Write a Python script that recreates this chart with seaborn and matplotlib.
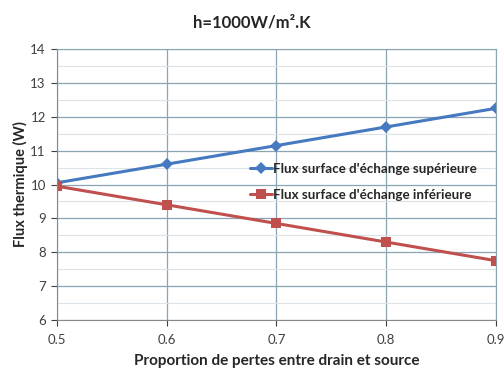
import matplotlib
matplotlib.use("Agg")
import matplotlib.pyplot as plt
import seaborn as sns
import pandas as pd
from matplotlib.ticker import MultipleLocator

# Proportion of losses between drain and source
proportion = [0.5, 0.6, 0.7, 0.8, 0.9]
flux_sup = [10.05, 10.6, 11.15, 11.7, 12.25]
flux_inf = [9.95, 9.4, 8.85, 8.3, 7.75]
label_sup = "Flux surface d'échange supérieure"
label_inf = "Flux surface d'échange inférieure"

df = pd.DataFrame({
    "x": proportion * 2,
    "y": flux_sup + flux_inf,
    "serie": [label_sup] * len(proportion) + [label_inf] * len(proportion),
})

sns.set_style("white")
plt.rcParams["font.family"] = ["Lato", "DejaVu Sans"]

fig = plt.figure(figsize=(5.04, 3.69), dpi=100)
ax = fig.add_axes([0.113, 0.133, 0.871, 0.734])

sns.lineplot(
    data=df, x="x", y="y", hue="serie", style="serie",
    palette={label_sup: "#4579C0", label_inf: "#C0504D"},
    markers={label_sup: "D", label_inf: "s"},
    dashes=False, markersize=6.5, linewidth=2.2, markeredgewidth=0,
    ax=ax,
)

ax.set_xlim(0.5, 0.9)
ax.set_ylim(6, 14)
ax.set_xticks(proportion)
ax.set_xticklabels([f"{v:g}" for v in proportion])
ax.yaxis.set_major_locator(MultipleLocator(1))
ax.yaxis.set_minor_locator(MultipleLocator(0.5))
ax.grid(which="major", color="#8AA4B4", linewidth=0.9)
ax.grid(which="minor", axis="y", color="#DCE3E8", linewidth=0.8)
ax.set_axisbelow(True)
for s in ax.spines.values():
    s.set_color("#8AA4B4")
ax.spines["left"].set_color("#888888")
ax.spines["bottom"].set_color("#888888")
ax.tick_params(axis="both", which="major", labelsize=9.5, colors="#404040",
               length=4, direction="out", left=True, bottom=True)
ax.tick_params(axis="x", which="major", pad=6)
ax.tick_params(axis="y", which="major", pad=4)
ax.tick_params(axis="both", which="minor", length=0)

ax.set_xlabel("Proportion de pertes entre drain et source",
              fontsize=11, fontweight="bold", labelpad=6)
ax.set_ylabel("Flux thermique (W)", fontsize=10.5, fontweight="bold", labelpad=2)
fig.text(0.5, 0.94, "h=1000W/m².K", ha="center", va="center",
         fontsize=12, fontweight="bold")

leg = ax.legend(loc="upper left", bbox_to_anchor=(0.428, 0.60), frameon=False,
                fontsize=9.6, handlelength=1.6, handletextpad=0.1,
                labelspacing=1.05, borderaxespad=0)
for t in leg.get_texts():
    t.set_fontweight("bold")

fig.savefig("out.png", dpi=100)
